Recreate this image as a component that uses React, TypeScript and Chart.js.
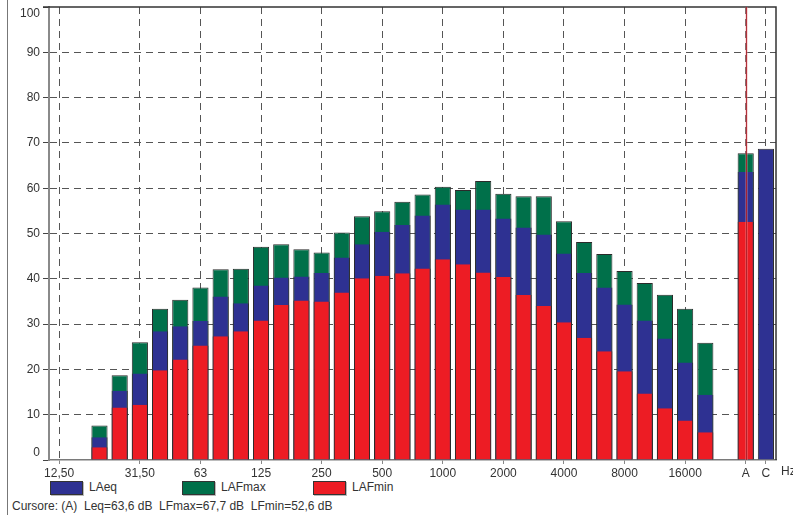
import React, { useEffect, useRef } from 'react';
import { Chart, registerables } from 'chart.js';

Chart.register(...registerables);

// Third-octave bands (Hz) + empty slot + global A / C weightings
const bands = [
  '12,50', '16', '20', '25', '31,50', '40', '50', '63', '80', '100', '125', '160', '200', '250', '315',
  '400', '500', '630', '800', '1000', '1250', '1600', '2000', '2500', '3150', '4000', '5000', '6300',
  '8000', '10000', '12500', '16000', '20000', '', 'A', 'C',
];
const shownLabels = ['12,50', '31,50', '63', '125', '250', '500', '1000', '2000', '4000', '8000', '16000', 'A', 'C'];

const laeq = [
  null, null, 5.0, 15.3, 19.1, 28.4, 29.5, 30.7, 36.1, 34.6, 38.5, 40.3, 40.5, 41.3, 44.7,
  47.6, 50.4, 51.9, 54.0, 56.4, 55.3, 55.3, 53.3, 51.3, 49.8, 45.6, 41.3, 38.1,
  34.3, 30.8, 26.8, 21.5, 14.4, null, 63.6, 68.7,
];
const lafmax = [
  null, null, 7.6, 18.7, 26.0, 33.4, 35.4, 38.1, 42.1, 42.2, 47.1, 47.6, 46.5, 45.8, 50.2,
  53.8, 54.9, 57.0, 58.6, 60.3, 59.6, 61.6, 58.8, 58.2, 58.2, 52.7, 48.1, 45.5,
  41.7, 39.1, 36.5, 33.4, 25.9, null, 67.7, null,
];
const lafmin = [
  null, null, 2.8, 11.6, 12.2, 19.8, 22.2, 25.3, 27.3, 28.4, 30.8, 34.2, 35.2, 35.0, 37.0,
  40.1, 40.7, 41.2, 42.3, 44.3, 43.2, 41.4, 40.4, 36.4, 34.0, 30.4, 27.0, 24.0,
  19.6, 14.7, 11.4, 8.7, 6.1, null, 52.6, null,
];

const yMin = 0;
const yMax = 100;
const cursorBand = 'A';
const unitLabel = 'Hz';
const seriesNames = ['LAeq', 'LAFmax', 'LAFmin'];
const seriesColors = ['#2E3192', '#00704A', '#ED1C24'];
const cursorText = 'Cursore: (A)  Leq=63,6 dB  LFmax=67,7 dB  LFmin=52,6 dB';

const FONT = 'Arial, "Liberation Sans", sans-serif';
const BORDER = '#2a2a2a';

const framePlugin = {
  id: 'frame',
  afterDatasetsDraw(chart: any) {
    const { ctx, chartArea: a, scales } = chart;
    const x = scales.x;
    const y = scales.y;
    ctx.save();
    // top & right frame
    ctx.strokeStyle = '#333';
    ctx.lineWidth = 1.5;
    ctx.beginPath();
    ctx.moveTo(a.left - 6, a.top);
    ctx.lineTo(a.right, a.top);
    ctx.lineTo(a.right, a.bottom);
    ctx.stroke();
    // cursor
    const cx = Math.round(x.getPixelForValue(bands.indexOf(cursorBand))) + 0.5;
    ctx.strokeStyle = 'rgba(235,150,155,0.35)';
    ctx.lineWidth = 3;
    ctx.beginPath();
    ctx.moveTo(cx, a.top);
    ctx.lineTo(cx, a.bottom);
    ctx.stroke();
    ctx.strokeStyle = 'rgba(170,30,40,0.9)';
    ctx.lineWidth = 1;
    ctx.beginPath();
    ctx.moveTo(cx, a.top);
    ctx.lineTo(cx, a.bottom);
    ctx.stroke();
    // unit label + end tick labels (kept inside the frame, as in the original)
    ctx.fillStyle = '#333';
    ctx.font = '12px ' + FONT;
    ctx.textAlign = 'left';
    ctx.textBaseline = 'middle';
    ctx.fillText(unitLabel, a.right + 5, a.bottom + 12);
    ctx.textAlign = 'right';
    ctx.fillText(String(yMax), a.left - 9, y.getPixelForValue(yMax) + 7);
    ctx.fillText(String(yMin), a.left - 9, y.getPixelForValue(yMin) - 7);
    ctx.restore();
  },
};

export default function App() {
  const ref = useRef<HTMLCanvasElement | null>(null);

  useEffect(() => {
    if (!ref.current) return;
    const sideBorder = (isTop: boolean) => ({ top: isTop ? 1 : 0, left: 1, right: 1, bottom: 0 });
    const chart = new Chart(ref.current, {
      type: 'bar',
      data: {
        labels: bands,
        datasets: [
          {
            label: seriesNames[2],
            data: lafmin,
            backgroundColor: seriesColors[2],
            borderColor: BORDER,
            borderWidth: sideBorder(false),
            grouped: false,
            barPercentage: 0.8,
            categoryPercentage: 1,
          },
          {
            label: seriesNames[0],
            data: laeq,
            backgroundColor: seriesColors[0],
            borderColor: BORDER,
            borderWidth: (c: any) => sideBorder(lafmax[c.dataIndex] == null),
            grouped: false,
            barPercentage: 0.8,
            categoryPercentage: 1,
          },
          {
            label: seriesNames[1],
            data: lafmax,
            backgroundColor: seriesColors[1],
            borderColor: BORDER,
            borderWidth: sideBorder(true),
            grouped: false,
            barPercentage: 0.8,
            categoryPercentage: 1,
          },
        ] as any,
      },
      options: {
        responsive: false,
        animation: false,
        layout: { padding: { top: 7, right: 17, left: 0, bottom: 0 } },
        plugins: { legend: { display: false }, tooltip: { enabled: false } },
        scales: {
          x: {
            offset: true,
            afterFit: (s: any) => { s.height = 20; s.paddingLeft = 0; s.paddingRight = 0; },
            grid: {
              offset: false,
              color: '#555',
              tickColor: '#888',
              tickLength: 4,
              lineWidth: 1,
            },
            border: { color: '#7a7a7a', width: 1.5, dash: [7, 5] },
            ticks: {
              autoSkip: false,
              maxRotation: 0,
              padding: 2,
              color: '#333',
              font: { family: FONT, size: 12 },
              callback: (_v: any, i: number) => (shownLabels.includes(bands[i]) ? bands[i] : null),
            },
          },
          y: {
            min: yMin,
            max: yMax,
            afterFit: (s: any) => { s.width = 49; s.paddingTop = 0; s.paddingBottom = 0; },
            grid: {
              color: (c: any) => (c.tick && (c.tick.value === yMin || c.tick.value === yMax) ? 'rgba(0,0,0,0)' : '#555'),
              tickColor: '#444',
              tickLength: 6,
            },
            border: { color: '#8a8a8a', width: 2, dash: [7, 5] },
            ticks: {
              stepSize: 10,
              padding: 3,
              color: '#333',
              font: { family: FONT, size: 12 },
              callback: (v: any) => (v === yMin || v === yMax ? '' : String(v)),
            },
          },
        },
      },
      plugins: [framePlugin],
    } as any);
    return () => chart.destroy();
  }, []);

  const legendX = [50, 182, 313];
  const legendOrder = [0, 1, 2];

  return (
    <div style={{ position: 'fixed', left: 0, top: 0, width: 793, height: 515, background: '#fff', fontFamily: FONT, color: '#333' }}>
      <div style={{ position: 'absolute', left: 7, top: 0, width: 1, height: 515, background: '#777' }} />
      <canvas ref={ref} width={793} height={480} style={{ position: 'absolute', left: 0, top: 0, width: 793, height: 480 }} />
      {legendOrder.map((k, i) => (
        <div key={seriesNames[k]}>
          <div
            style={{
              position: 'absolute', left: legendX[i], top: 481, width: 31, height: 12,
              background: seriesColors[k], border: '1px solid #333', boxShadow: '1px 1px 0 #bbb',
            }}
          />
          <div style={{ position: 'absolute', left: legendX[i] + 39, top: 480, fontSize: 12, lineHeight: '15px' }}>
            {seriesNames[k]}
          </div>
        </div>
      ))}
      <div style={{ position: 'absolute', left: 12, top: 499, fontSize: 12, lineHeight: '15px', whiteSpace: 'pre' }}>
        {cursorText}
      </div>
    </div>
  );
}
